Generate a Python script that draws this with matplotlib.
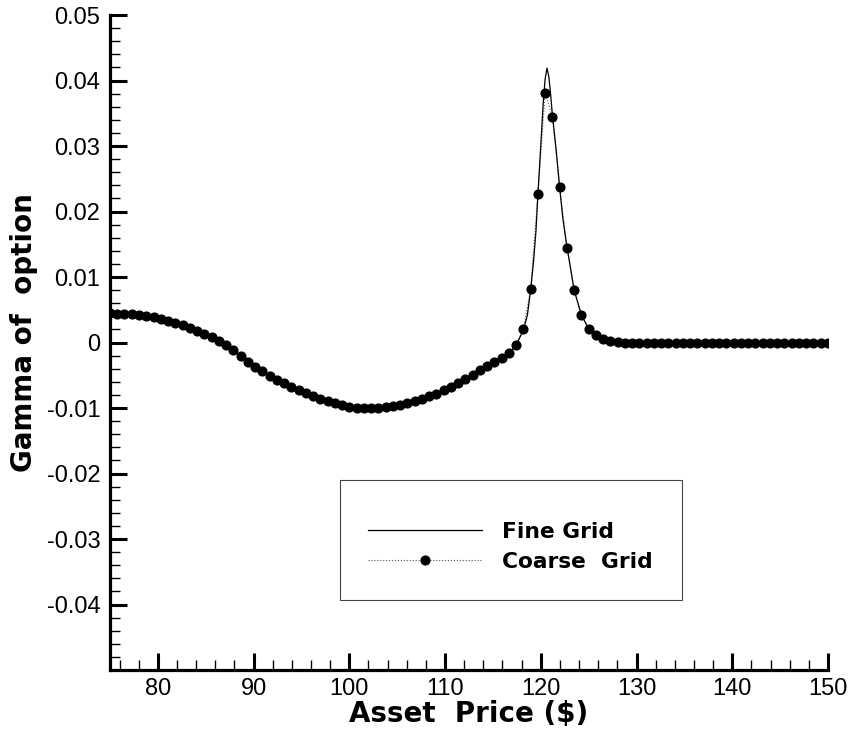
import matplotlib
matplotlib.use("Agg")

import matplotlib.pyplot as plt
import numpy as np
from matplotlib.patches import Rectangle
from matplotlib.ticker import FixedLocator, MultipleLocator, FuncFormatter

plt.rcParams["font.family"] = ["Liberation Sans", "DejaVu Sans"]
plt.rcParams["axes.unicode_minus"] = False

# ── 데이터 ──────────────────────────────────────────────────────────
# coarse grid: 75 ~ 150 구간 100개 노드
coarse_x = np.linspace(75, 150, 100)
coarse_y = [
    0.00444, 0.00442, 0.00438, 0.00433, 0.00424, 0.00410, 0.00393, 0.00360, 0.00334, 0.00300,
    0.00262, 0.00222, 0.00178, 0.00133, 0.00082, 0.00027, -0.00045, -0.00120, -0.00205, -0.00290,
    -0.00372, -0.00440, -0.00505, -0.00565, -0.00625, -0.00680, -0.00730, -0.00775, -0.00820, -0.00862,
    -0.00898, -0.00928, -0.00955, -0.00978, -0.00995, -0.01006, -0.01007, -0.01002, -0.00990, -0.00973,
    -0.00952, -0.00925, -0.00894, -0.00860, -0.00822, -0.00780, -0.00730, -0.00678, -0.00620, -0.00558,
    -0.00490, -0.00420, -0.00355, -0.00295, -0.00230, -0.00160, -0.00040, 0.00200, 0.00820, 0.02260,
    0.03810, 0.03450, 0.02370, 0.01450, 0.00800, 0.00420, 0.00210, 0.00110, 0.00050, 0.00020,
    0.00010, 0.0, 0.0, 0.0, 0.0, 0.0, 0.0, 0.0, 0.0, 0.0,
    0.0, 0.0, 0.0, 0.0, 0.0, 0.0, 0.0, 0.0, 0.0, 0.0,
    0.0, 0.0, 0.0, 0.0, 0.0, 0.0, 0.0, 0.0, 0.0, 0.0,
]

# fine grid: 피크 주변만 coarse와 다름
peak_x = [118.18, 118.6, 118.94, 119.25, 119.5, 119.7, 120.03, 120.25, 120.45, 120.65,
          120.85, 121.03, 121.21, 121.6, 121.97, 122.3, 122.64]
peak_y = [0.0019, 0.0042, 0.0080, 0.0125, 0.0171, 0.0226, 0.0309, 0.0365, 0.0402, 0.0419,
          0.0405, 0.0378, 0.0348, 0.0295, 0.0237, 0.0190, 0.0155]

fine_x = list(coarse_x[:57]) + peak_x + list(coarse_x[64:])
fine_y = list(coarse_y[:57]) + peak_y + list(coarse_y[64:])

x_major = [80, 90, 100, 110, 120, 130, 140, 150]
y_major = [-0.04, -0.03, -0.02, -0.01, 0.0, 0.01, 0.02, 0.03, 0.04, 0.05]

BOLD = {"family": ["DejaVu Sans"], "weight": "bold"}

# ── 그림 ────────────────────────────────────────────────────────────────────
fig = plt.figure(figsize=(8.5, 7.33), dpi=100)
ax = fig.add_axes([0.1294, 0.0859, 0.8447, 0.8936])

ax.plot(coarse_x, coarse_y, color="#555555", linestyle=":", linewidth=0.8,
        marker="o", markersize=6.3, markerfacecolor="black", markeredgecolor="black",
        label="Coarse  Grid")
ax.plot(fine_x, fine_y, color="black", linewidth=0.9, label="Fine Grid")

ax.set_xlim(75, 150)
ax.set_ylim(-0.05, 0.05)

ax.xaxis.set_major_locator(FixedLocator(x_major))
ax.xaxis.set_minor_locator(MultipleLocator(2))
ax.yaxis.set_major_locator(FixedLocator(y_major))
ax.yaxis.set_minor_locator(MultipleLocator(0.002))
ax.yaxis.set_major_formatter(FuncFormatter(lambda v, p: f"{round(v, 3):g}"))

for side in ["top", "right"]:
    ax.spines[side].set_visible(False)
for side in ["left", "bottom"]:
    ax.spines[side].set_linewidth(2.3)

ax.tick_params(which="major", direction="in", length=12, width=2.2, labelsize=17)
ax.tick_params(which="minor", direction="in", length=7.5, width=1.0)
ax.tick_params(axis="x", which="major", pad=6)
ax.tick_params(axis="y", which="major", pad=7)

ax.set_xlabel("Asset  Price ($)", fontsize=20, labelpad=0, **BOLD)
ax.set_ylabel("Gamma of  option", fontsize=20, **BOLD)
ax.yaxis.set_label_coords(-0.100, 0.515)

# 범례 박스 + 항목 (Fine Grid 먼저)
ax.add_patch(Rectangle((0.320, 0.107), 0.477, 0.183, transform=ax.transAxes,
                       fill=False, edgecolor="#444444", linewidth=0.8, zorder=5))
handles, labels = ax.get_legend_handles_labels()
leg = ax.legend(handles[::-1], labels[::-1], loc="center left",
                bbox_to_anchor=(0.3593, 0.188), frameon=False,
                borderaxespad=0, borderpad=0, labelspacing=0.48,
                handlelength=5.25, handletextpad=0.9, numpoints=1,
                prop={"family": ["DejaVu Sans"], "weight": "bold", "size": 15.7})

plt.savefig("out.png", dpi=100)
plt.close()
